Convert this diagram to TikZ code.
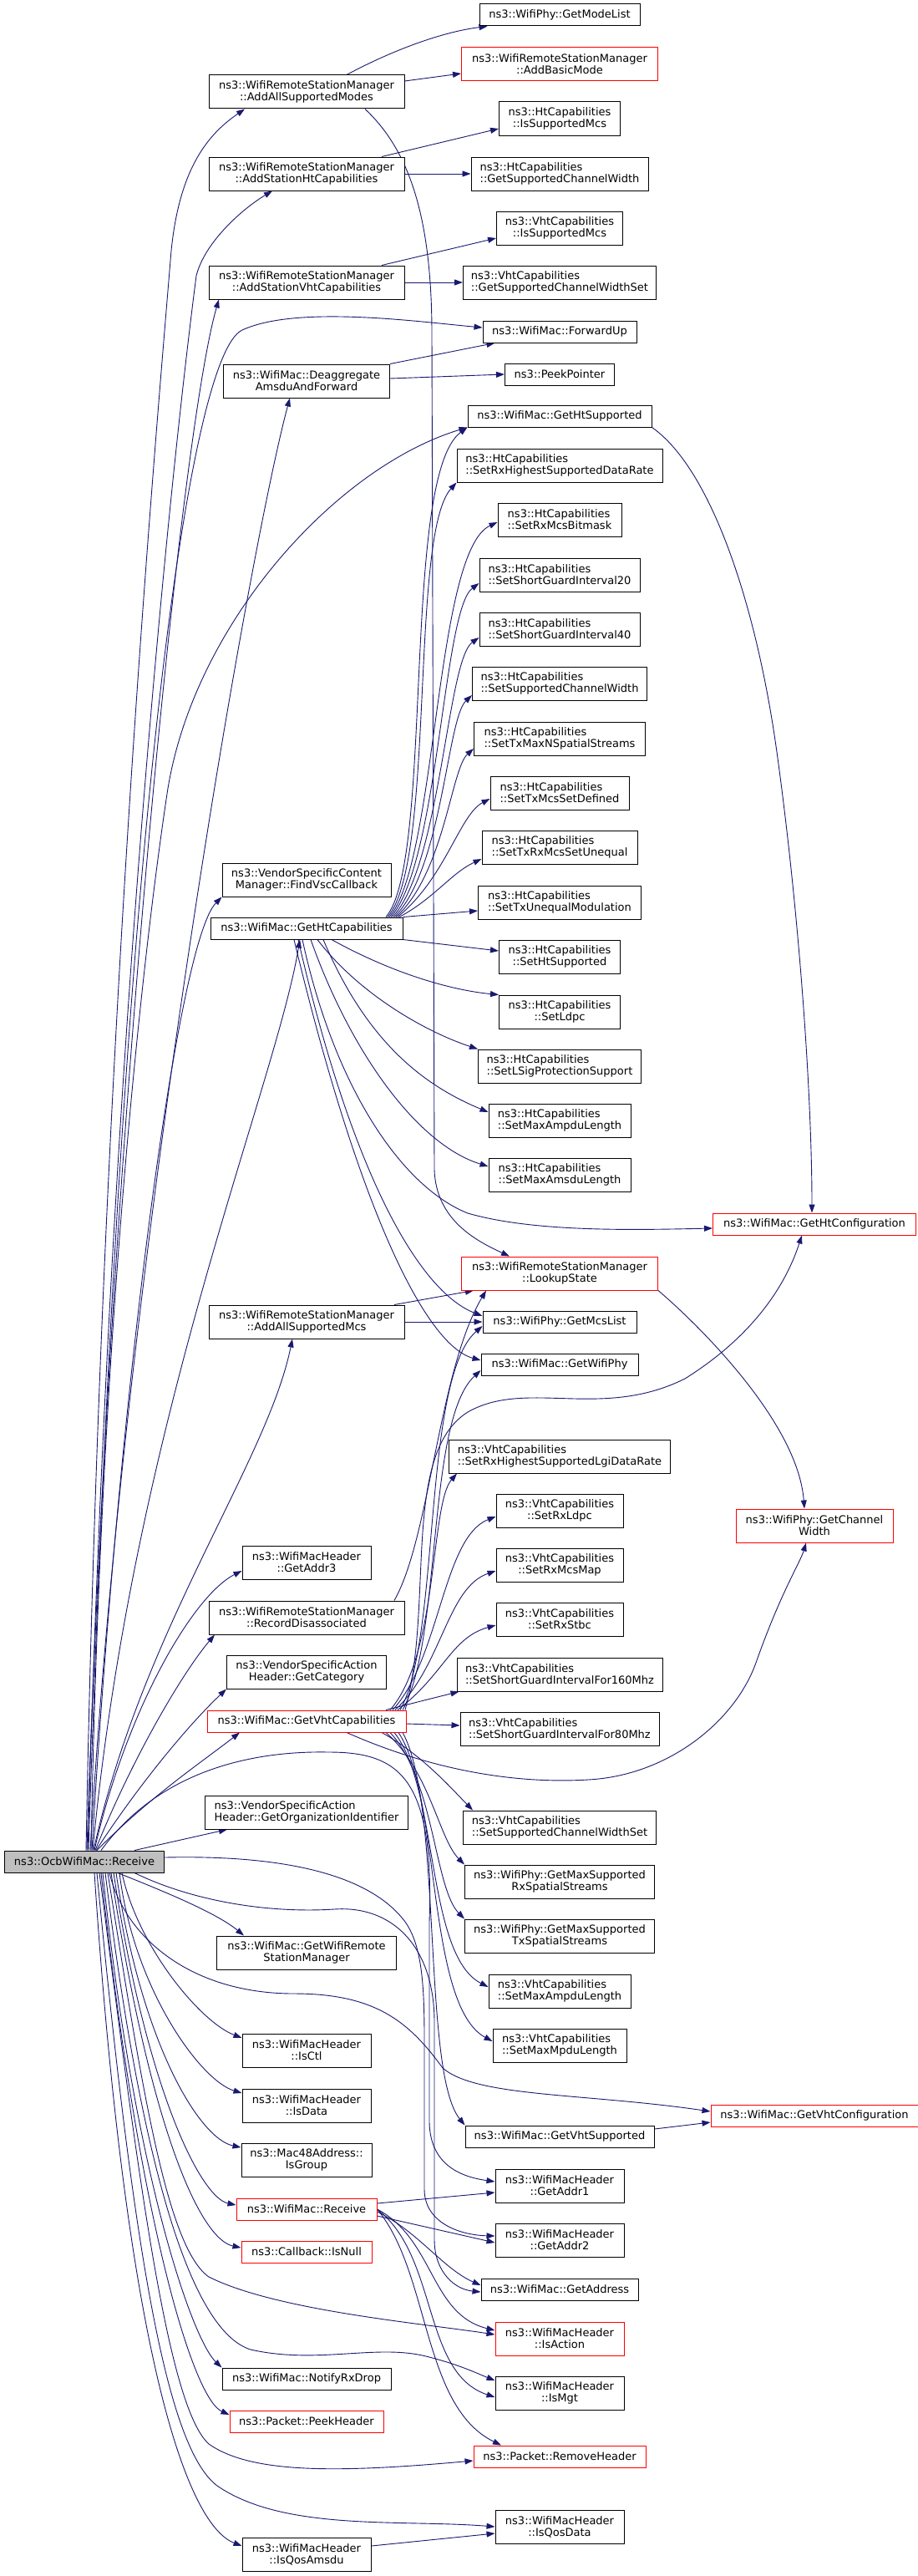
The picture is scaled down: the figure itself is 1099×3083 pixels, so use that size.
\documentclass[tikz,border=0pt]{standalone}
\usepackage{fontspec}
\setmainfont{DejaVu Sans}
\usetikzlibrary{arrows.meta}
\definecolor{edgeblue}{HTML}{191970}
\definecolor{rootgray}{HTML}{BFBFBF}
\pgfdeclarelayer{bg}
\pgfdeclarelayer{paper}
\pgfsetlayers{paper,bg,main}
\begin{document}
\begin{tikzpicture}[x=1pt,y=-1pt,
  box/.style={draw=black, line width=1pt, fill=white, minimum height=26pt, inner sep=2pt,
    font=\fontsize{13pt}{14pt}\selectfont, align=center},
  two/.style={box, minimum height=40pt},
  lft/.style={align=left},
  redb/.style={draw=red},
  rootb/.style={fill=rootgray},
  edge/.style={draw=edgeblue, line width=0.9pt, -{Triangle[length=10pt,width=7pt]}}]
\begin{pgfonlayer}{paper}
\fill[white] (0,0) rectangle (1099,3083);
\end{pgfonlayer}
\useasboundingbox (0,0) rectangle (1099,3083);

% column A
\node[two, minimum width=234pt] (modes) at (367,110) {ns3::WifiRemoteStationManager\\::AddAllSupportedModes};
\node[two, minimum width=234pt] (addht) at (367,208) {ns3::WifiRemoteStationManager\\::AddStationHtCapabilities};
\node[two, minimum width=234pt] (addvht) at (367,338) {ns3::WifiRemoteStationManager\\::AddStationVhtCapabilities};
\node[two, minimum width=199pt] (deagg) at (367,456) {ns3::WifiMac::Deaggregate\\AmsduAndForward};
\node[two, minimum width=202pt] (findvsc) at (367,1053) {ns3::VendorSpecificContent\\Manager::FindVscCallback};
\node[box, minimum width=230pt] (gethtcap) at (367,1111) {ns3::WifiMac::GetHtCapabilities};
\node[two, minimum width=234pt] (addmcs) at (367,1582) {ns3::WifiRemoteStationManager\\::AddAllSupportedMcs};
\node[two, minimum width=154pt] (addr3) at (367,1870) {ns3::WifiMacHeader\\::GetAddr3};
\node[two, minimum width=234pt] (recdis) at (367,1936) {ns3::WifiRemoteStationManager\\::RecordDisassociated};
\node[two, minimum width=191pt] (getcat) at (367,2001) {ns3::VendorSpecificAction\\Header::GetCategory};
\node[box, redb, minimum width=238pt] (getvhtcap) at (367,2060) {ns3::WifiMac::GetVhtCapabilities};
\node[two, lft, minimum width=243pt] (orgid) at (367,2169) {ns3::VendorSpecificAction\\Header::GetOrganizationIdentifier};
\node[box, rootb, minimum width=191pt] (root) at (101,2228) {ns3::OcbWifiMac::Receive};
\node[two, minimum width=215pt] (getrsm) at (367,2337) {ns3::WifiMac::GetWifiRemote\\StationManager};
\node[two, minimum width=154pt] (isctl) at (367,2454) {ns3::WifiMacHeader\\::IsCtl};
\node[two, minimum width=154pt] (isdata) at (367,2520) {ns3::WifiMacHeader\\::IsData};
\node[two, minimum width=156pt] (isgroup) at (367,2585) {ns3::Mac48Address::\\IsGroup};
\node[box, redb, minimum width=168pt] (wmrecv) at (367,2644) {ns3::WifiMac::Receive};
\node[box, redb, minimum width=156pt] (isnull) at (367,2695) {ns3::Callback::IsNull};
\node[box, minimum width=202pt] (notify) at (367,2847) {ns3::WifiMac::NotifyRxDrop};
\node[box, redb, minimum width=184pt] (peekhdr) at (367,2898) {ns3::Packet::PeekHeader};
\node[two, minimum width=154pt] (isqosamsdu) at (367,3057) {ns3::WifiMacHeader\\::IsQosAmsdu};

% column B
\node[box, minimum width=192pt] (modelist) at (670,18) {ns3::WifiPhy::GetModeList};
\node[two, redb, minimum width=235pt] (addbasic) at (670,77) {ns3::WifiRemoteStationManager\\::AddBasicMode};
\node[two, minimum width=145pt] (htissup) at (670,142) {ns3::HtCapabilities\\::IsSupportedMcs};
\node[two, lft, minimum width=212pt] (htchw) at (670,208) {ns3::HtCapabilities\\::GetSupportedChannelWidth};
\node[two, minimum width=151pt] (vhtissup) at (670,273) {ns3::VhtCapabilities\\::IsSupportedMcs};
\node[two, lft, minimum width=231pt] (vhtchws) at (670,338) {ns3::VhtCapabilities\\::GetSupportedChannelWidthSet};
\node[box, minimum width=184pt] (fwdup) at (670,397) {ns3::WifiMac::ForwardUp};
\node[box, minimum width=131pt] (peekptr) at (670,448) {ns3::PeekPointer};
\node[box, minimum width=220pt] (gethtsup) at (670,498) {ns3::WifiMac::GetHtSupported};
\node[two, lft, minimum width=246pt] (rxhigh) at (670,557) {ns3::HtCapabilities\\::SetRxHighestSupportedDataRate};
\node[two, lft, minimum width=148pt] (rxmcsbm) at (670,622) {ns3::HtCapabilities\\::SetRxMcsBitmask};
\node[two, lft, minimum width=192pt] (sgi20) at (670,688) {ns3::HtCapabilities\\::SetShortGuardInterval20};
\node[two, lft, minimum width=192pt] (sgi40) at (670,753) {ns3::HtCapabilities\\::SetShortGuardInterval40};
\node[two, lft, minimum width=209pt] (suppcw) at (670,818) {ns3::HtCapabilities\\::SetSupportedChannelWidth};
\node[two, lft, minimum width=205pt] (txmaxn) at (670,884) {ns3::HtCapabilities\\::SetTxMaxNSpatialStreams};
\node[two, lft, minimum width=166pt] (txmcsdef) at (670,949) {ns3::HtCapabilities\\::SetTxMcsSetDefined};
\node[two, lft, minimum width=186pt] (txrxun) at (670,1014) {ns3::HtCapabilities\\::SetTxRxMcsSetUnequal};
\node[two, lft, minimum width=195pt] (txuneq) at (670,1080) {ns3::HtCapabilities\\::SetTxUnequalModulation};
\node[two, minimum width=145pt] (htsup) at (670,1145) {ns3::HtCapabilities\\::SetHtSupported};
\node[two, minimum width=145pt] (ldpc) at (670,1211) {ns3::HtCapabilities\\::SetLdpc};
\node[two, lft, minimum width=195pt] (lsig) at (670,1276) {ns3::HtCapabilities\\::SetLSigProtectionSupport};
\node[two, lft, minimum width=170pt] (htampdu) at (670,1341) {ns3::HtCapabilities\\::SetMaxAmpduLength};
\node[two, lft, minimum width=170pt] (htamsdu) at (670,1406) {ns3::HtCapabilities\\::SetMaxAmsduLength};
\node[two, redb, minimum width=235pt] (lookup) at (670,1524) {ns3::WifiRemoteStationManager\\::LookupState};
\node[box, minimum width=184pt] (mcslist) at (670,1582) {ns3::WifiPhy::GetMcsList};
\node[box, minimum width=188pt] (getphy) at (670,1633) {ns3::WifiMac::GetWifiPhy};
\node[two, lft, minimum width=265pt] (vrxlgi) at (670,1743) {ns3::VhtCapabilities\\::SetRxHighestSupportedLgiDataRate};
\node[two, minimum width=152pt] (vrxldpc) at (670,1808) {ns3::VhtCapabilities\\::SetRxLdpc};
\node[two, minimum width=152pt] (vrxmcs) at (670,1873) {ns3::VhtCapabilities\\::SetRxMcsMap};
\node[two, minimum width=152pt] (vrxstbc) at (670,1938) {ns3::VhtCapabilities\\::SetRxStbc};
\node[two, lft, minimum width=246pt] (sgi160) at (670,2004) {ns3::VhtCapabilities\\::SetShortGuardIntervalFor160Mhz};
\node[two, lft, minimum width=238pt] (sgi80) at (670,2069) {ns3::VhtCapabilities\\::SetShortGuardIntervalFor80Mhz};
\node[two, lft, minimum width=231pt] (vchws) at (670,2187) {ns3::VhtCapabilities\\::SetSupportedChannelWidthSet};
\node[two, minimum width=227pt] (maxrx) at (670,2252) {ns3::WifiPhy::GetMaxSupported\\RxSpatialStreams};
\node[two, minimum width=227pt] (maxtx) at (670,2317) {ns3::WifiPhy::GetMaxSupported\\TxSpatialStreams};
\node[two, lft, minimum width=170pt] (vampdu) at (670,2383) {ns3::VhtCapabilities\\::SetMaxAmpduLength};
\node[two, lft, minimum width=160pt] (vmpdu) at (670,2448) {ns3::VhtCapabilities\\::SetMaxMpduLength};
\node[box, minimum width=226pt] (getvhtsup) at (670,2557) {ns3::WifiMac::GetVhtSupported};
\node[two, minimum width=154pt] (addr1) at (670,2616) {ns3::WifiMacHeader\\::GetAddr1};
\node[two, minimum width=154pt] (addr2) at (670,2681) {ns3::WifiMacHeader\\::GetAddr2};
\node[box, minimum width=188pt] (getaddr) at (670,2740) {ns3::WifiMac::GetAddress};
\node[two, redb, minimum width=154pt] (isaction) at (670,2799) {ns3::WifiMacHeader\\::IsAction};
\node[two, minimum width=154pt] (ismgt) at (670,2864) {ns3::WifiMacHeader\\::IsMgt};
\node[box, redb, minimum width=206pt] (removehdr) at (670,2940) {ns3::Packet::RemoveHeader};
\node[two, minimum width=154pt] (isqosdata) at (670,3024) {ns3::WifiMacHeader\\::IsQosData};

% column C
\node[box, redb, minimum width=243pt] (htconf) at (975,1465) {ns3::WifiMac::GetHtConfiguration};
\node[two, redb, minimum width=188pt] (chw) at (975,1826) {ns3::WifiPhy::GetChannel\\Width};
\node[box, redb, minimum width=248pt] (vhtconf) at (975,2532) {ns3::WifiMac::GetVhtConfiguration};

\begin{pgfonlayer}{bg}
% root upward
\draw[edge] ([xshift=2pt]root.north) .. controls (120,1300) and (180,600) .. (205,300) .. controls (215,200) and (250,160) .. ([xshift=-74pt]modes.south);
\draw[edge] ([xshift=4pt]root.north) .. controls (130,1300) and (200,600) .. (235,330) .. controls (245,290) and (290,250) .. ([xshift=-41pt]addht.south);
\draw[edge] ([xshift=3pt]root.north) .. controls (130,1400) and (215,520) .. ([xshift=-105pt]addvht.south);
\draw[edge] ([xshift=5pt]root.north) .. controls (145,1000) and (225,425) .. (290,395) .. controls (355,365) and (500,385) .. ([yshift=5pt]fwdup.west);
\draw[edge] ([xshift=7pt]root.north) .. controls (150,1500) and (300,650) .. ([xshift=-20pt]deagg.south);
\draw[edge] ([xshift=8pt]root.north) .. controls (120,1600) and (170,1150) .. (200,950) .. controls (230,750) and (400,560) .. (gethtsup.south west);
\draw[edge] ([xshift=9pt]root.north) .. controls (140,1700) and (210,1130) .. (findvsc.south west);
\draw[edge] ([xshift=10pt]root.north) .. controls (160,1700) and (330,1300) .. ([xshift=-8pt]gethtcap.south);
\draw[edge] ([xshift=11pt]root.north) .. controls (170,1950) and (320,1750) .. ([xshift=-17pt]addmcs.south);
\draw[edge] ([xshift=12pt]root.north) .. controls (150,2050) and (230,1910) .. ([yshift=-10pt]addr3.west);
\draw[edge] ([xshift=13pt]root.north) .. controls (160,2100) and (220,2000) .. ([xshift=-110pt]recdis.south);
\draw[edge] ([xshift=14pt]root.north) .. controls (170,2130) and (230,2060) .. (getcat.south west);
\draw[edge] ([xshift=15pt]root.north) .. controls (180,2150) and (240,2110) .. ([xshift=-80pt]getvhtcap.south);
\draw[edge] ([xshift=60pt]root.north) -- ([xshift=-95pt]orgid.south);
% root long curves through the corridor
\draw[edge] ([xshift=20pt]root.north) .. controls (190,2120) and (300,2095) .. (394,2097) .. controls (480,2097) and (520,2130) .. (514,2300) -- (514,2540) .. controls (515,2590) and (550,2605) .. ([yshift=5pt]addr1.west);
\draw[edge] ([yshift=5pt]root.east) .. controls (330,2220) and (440,2240) .. (485,2300) .. controls (510,2335) and (508,2400) .. (508,2480) -- (508,2620) .. controls (508,2660) and (550,2675) .. ([yshift=5pt]addr2.west);
\draw[edge] ([xshift=60pt]root.south) .. controls (230,2275) and (320,2290) .. (400,2285) .. controls (470,2280) and (520,2330) .. (520,2420) -- (520,2680) .. controls (520,2720) and (545,2740) .. ([yshift=-3pt]getaddr.west);
\draw[edge] ([xshift=30pt]root.south) .. controls (150,2320) and (230,2386) .. (352,2386) .. controls (450,2386) and (490,2420) .. (530,2475) .. controls (570,2510) and (700,2505) .. ([yshift=5pt]vhtconf.west);
% root downward
\draw[edge] ([xshift=40pt]root.south) .. controls (200,2265) and (260,2290) .. ([xshift=-75pt]getrsm.north);
\draw[edge] ([xshift=45pt]root.south) .. controls (165,2330) and (240,2420) .. ([yshift=15pt]isctl.west);
\draw[edge] ([xshift=42pt]root.south) .. controls (160,2380) and (240,2490) .. ([yshift=15pt]isdata.west);
\draw[edge] ([xshift=38pt]root.south) .. controls (170,2450) and (240,2560) .. ([yshift=15pt]isgroup.west);
\draw[edge] ([xshift=35pt]root.south) .. controls (175,2500) and (240,2630) .. ([yshift=5pt]wmrecv.west);
\draw[edge] ([xshift=32pt]root.south) .. controls (180,2550) and (240,2680) .. ([yshift=5pt]isnull.west);
\draw[edge] ([xshift=28pt]root.south) .. controls (170,2500) and (200,2690) .. (250,2725) .. controls (330,2765) and (500,2780) .. ([yshift=5pt]isaction.west);
\draw[edge] ([xshift=25pt]root.south) .. controls (170,2600) and (230,2790) .. (300,2812) .. controls (380,2830) and (450,2805) .. (510,2820) .. controls (550,2830) and (570,2840) .. ([yshift=15pt]ismgt.west);
\draw[edge] ([xshift=22pt]root.south) .. controls (160,2600) and (230,2800) .. (notify.north west);
\draw[edge] ([xshift=20pt]root.south) .. controls (165,2650) and (230,2870) .. ([yshift=8pt]peekhdr.west);
\draw[edge] ([xshift=18pt]root.south) .. controls (165,2600) and (200,2880) .. (250,2925) .. controls (300,2960) and (400,2960) .. ([yshift=-5pt]removehdr.west);
\draw[edge] ([xshift=15pt]root.south) .. controls (160,2700) and (200,2930) .. (260,2975) .. controls (340,3030) and (480,3015) .. (isqosdata.west);
\draw[edge] ([xshift=12pt]root.south) .. controls (150,2800) and (220,3020) .. ([yshift=10pt]isqosamsdu.west);
\draw[edge] ([yshift=10pt]isqosamsdu.east) -- ([yshift=-8pt]isqosdata.west);
% WifiMac::Receive
\draw[edge] ([yshift=7pt]wmrecv.east) -- ([yshift=-8pt]addr1.west);
\draw[edge] ([yshift=-8pt]wmrecv.east) -- ([yshift=-3pt]addr2.west);
\draw[edge] ([yshift=-3pt]wmrecv.east) .. controls (500,2670) and (530,2715) .. ([yshift=5pt]getaddr.west);
\draw[edge] (wmrecv.east) .. controls (520,2680) and (515,2770) .. ([yshift=10pt]isaction.west);
\draw[edge] (wmrecv.east) .. controls (525,2700) and (505,2840) .. ([yshift=-5pt]ismgt.west);
\draw[edge] (wmrecv.east) .. controls (515,2720) and (505,2880) .. ([xshift=-70pt]removehdr.north);
% AddAllSupportedModes
\draw[edge] ([xshift=48pt]modes.north) .. controls (470,60) and (530,38) .. ([xshift=10pt]modelist.south west);
\draw[edge] ([yshift=13pt]modes.east) -- ([yshift=-11pt]addbasic.west);
\draw[edge] ([xshift=70pt]modes.south) .. controls (490,180) and (517,260) .. (517,400) -- (520,1400) .. controls (522,1460) and (570,1485) .. ([xshift=-60pt]lookup.north);
% AddStationHt / Vht
\draw[edge] ([xshift=90pt]addht.north) -- ([yshift=-12pt]htissup.west);
\draw[edge] (addht.east) -- (htchw.west);
\draw[edge] ([xshift=90pt]addvht.north) -- ([yshift=-12pt]vhtissup.west);
\draw[edge] (addvht.east) -- (vhtchws.west);
% Deaggregate
\draw[edge] (deagg.north east) -- ([xshift=15pt]fwdup.south west);
\draw[edge] ([yshift=3pt]deagg.east) -- (peekptr.west);
% AddAllSupportedMcs, RecordDisassociated, LookupState, GetHtSupported
\draw[edge] ([xshift=105pt]addmcs.north) -- ([xshift=15pt]lookup.south west);
\draw[edge] (addmcs.east) -- (mcslist.west);
\draw[edge] ([xshift=105pt]recdis.north) .. controls (515,1840) and (525,1640) .. ([xshift=30pt]lookup.south west);
\draw[edge] (lookup.south east) .. controls (830,1580) and (955,1700) .. ([xshift=-12pt]chw.north);
\draw[edge] (gethtsup.south east) .. controls (850,560) and (905,720) .. (930,900) .. controls (955,1080) and (972,1300) .. ([xshift=-3pt]htconf.north);
% GetHtCapabilities
\draw[edge] ([xshift=95pt]gethtcap.north) .. controls (520,1030) and (480,570) .. (gethtsup.south west);
\draw[edge] ([xshift=97pt]gethtcap.north) .. controls (522,1030) and (490,640) .. (rxhigh.south west);
\draw[edge] ([xshift=99pt]gethtcap.north) .. controls (524,1030) and (520,660) .. ([yshift=-3pt]rxmcsbm.west);
\draw[edge] ([xshift=101pt]gethtcap.north) .. controls (526,1030) and (530,730) .. ([yshift=-10pt]sgi20.west);
\draw[edge] ([xshift=103pt]gethtcap.north) .. controls (528,1035) and (535,790) .. ([yshift=-10pt]sgi40.west);
\draw[edge] ([xshift=105pt]gethtcap.north) .. controls (530,1040) and (535,860) .. ([yshift=-14pt]suppcw.west);
\draw[edge] ([xshift=107pt]gethtcap.north) .. controls (532,1045) and (540,920) .. ([yshift=-12pt]txmaxn.west);
\draw[edge] ([xshift=109pt]gethtcap.north) .. controls (534,1050) and (550,975) .. ([yshift=-7pt]txmcsdef.west);
\draw[edge] ([xshift=111pt]gethtcap.north) .. controls (520,1075) and (540,1045) .. ([yshift=-14pt]txrxun.west);
\draw[edge] (gethtcap.north east) -- ([yshift=-10pt]txuneq.west);
\draw[edge] (gethtcap.south east) -- ([yshift=7pt]htsup.west);
\draw[edge] ([xshift=30pt]gethtcap.south) .. controls (470,1165) and (540,1185) .. (ldpc.north west);
\draw[edge] ([xshift=13pt]gethtcap.south) .. controls (430,1190) and (510,1235) .. (lsig.north west);
\draw[edge] ([xshift=20pt]gethtcap.south) .. controls (440,1250) and (510,1300) .. ([yshift=10pt]htampdu.west);
\draw[edge] ([xshift=5pt]gethtcap.south) .. controls (420,1260) and (500,1370) .. ([yshift=10pt]htamsdu.west);
\draw[edge] ([xshift=-5pt]gethtcap.south) .. controls (400,1300) and (480,1420) .. (560,1452) .. controls (640,1475) and (760,1472) .. ([yshift=-5pt]htconf.west);
\draw[edge] ([xshift=-10pt]gethtcap.south) .. controls (420,1400) and (500,1545) .. ([yshift=7pt]mcslist.west);
\draw[edge] ([xshift=-15pt]gethtcap.south) .. controls (430,1450) and (510,1610) .. ([yshift=5pt]getphy.west);
% GetVhtCapabilities
\draw[edge] ([xshift=100pt]getvhtcap.north) .. controls (525,1980) and (515,1800) .. ([xshift=10pt]vrxlgi.south west);
\draw[edge] ([xshift=103pt]getvhtcap.north) .. controls (527,1985) and (530,1840) .. ([yshift=-7pt]vrxldpc.west);
\draw[edge] ([xshift=106pt]getvhtcap.north) .. controls (529,1995) and (535,1900) .. ([yshift=-7pt]vrxmcs.west);
\draw[edge] ([xshift=109pt]getvhtcap.north) .. controls (531,2005) and (540,1960) .. ([yshift=-7pt]vrxstbc.west);
\draw[edge] ([xshift=95pt]getvhtcap.north) -- ([xshift=3pt]sgi160.south west);
\draw[edge] ([xshift=112pt]getvhtcap.north) .. controls (528,1960) and (505,1650) .. ([yshift=-5pt]mcslist.west);
\draw[edge] ([xshift=115pt]getvhtcap.north) .. controls (530,1960) and (510,1700) .. ([yshift=-7pt]getphy.west);
\draw[edge] ([xshift=118pt]getvhtcap.north) .. controls (520,1920) and (480,1740) .. (560,1690) .. controls (630,1650) and (720,1700) .. (820,1650) .. controls (900,1600) and (940,1540) .. ([xshift=-15pt]htconf.south);
\draw[edge] ([yshift=-3pt]getvhtcap.east) -- ([yshift=4pt]sgi80.west);
\draw[edge] ([xshift=90pt]getvhtcap.south) .. controls (505,2100) and (540,2140) .. ([xshift=12pt]vchws.north west);
\draw[edge] ([xshift=95pt]getvhtcap.south) .. controls (515,2120) and (525,2200) .. (maxrx.north west);
\draw[edge] ([xshift=100pt]getvhtcap.south) .. controls (520,2130) and (520,2260) .. (maxtx.north west);
\draw[edge] ([xshift=105pt]getvhtcap.south) .. controls (525,2140) and (510,2340) .. ([yshift=5pt]vampdu.west);
\draw[edge] ([xshift=110pt]getvhtcap.south) .. controls (528,2150) and (510,2400) .. ([yshift=5pt]vmpdu.west);
\draw[edge] ([xshift=115pt]getvhtcap.south) .. controls (530,2160) and (505,2480) .. (getvhtsup.north west);
\draw[edge] ([xshift=48pt]getvhtcap.south) .. controls (520,2120) and (620,2135) .. (704,2130) .. controls (800,2125) and (880,2060) .. (905,1990) .. controls (935,1905) and (958,1870) .. ([xshift=-10pt]chw.south);
\draw[edge] ([yshift=9pt]getvhtsup.east) -- ([yshift=-8pt]vhtconf.west);
\end{pgfonlayer}
\end{tikzpicture}
\end{document}
